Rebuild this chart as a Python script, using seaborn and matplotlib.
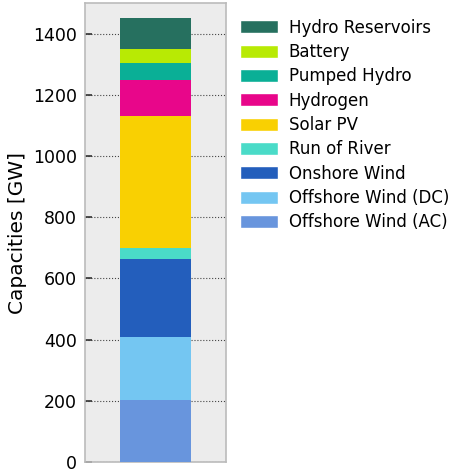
import matplotlib
matplotlib.use("Agg")
from matplotlib import pyplot as plt
from matplotlib.patches import Patch
import numpy as np
import pandas as pd
import seaborn as sns

# technologies from bottom to top of the stack
techs = ["Offshore Wind (AC)", "Offshore Wind (DC)", "Onshore Wind", "Run of River",
         "Solar PV", "Hydrogen", "Pumped Hydro", "Battery", "Hydro Reservoirs"]
capacities = [203, 205, 257, 34, 432, 116, 56, 48, 101]
colors = ["#6895dd", "#74c6f2", "#235ebc", "#4adbc8", "#f9d002",
          "#e8068a", "#0aaf96", "#b8ea04", "#26705f"]

sns.set_style("darkgrid", {"axes.facecolor": "#ececec", "grid.color": "#333333",
                           "grid.linestyle": ":", "axes.edgecolor": "#bbbbbb",
                           "text.color": "black", "axes.labelcolor": "black",
                           "ytick.color": "black"})
plt.rcParams['font.family'] = ['DejaVu Sans']

fig = plt.figure(figsize=(4.55, 4.72), dpi=100)
ax = fig.add_axes([85 / 455, 1 - 462 / 472, 141 / 455, 459 / 472])

df = pd.DataFrame({"tech": techs, "cap": capacities, "color": colors})
df["top"] = np.cumsum(df["cap"])

# draw cumulative totals from the top down so lower layers sit on top
for _, row in df.iloc[::-1].iterrows():
    sns.barplot(x=[""], y=[row["top"]], color=row["color"], width=0.5,
                saturation=1, linewidth=0, ax=ax, zorder=3)

ax.set_ylim(0, 1500)
ax.set_xlim(-0.5, 0.5)
ax.set_yticks([0, 200, 400, 600, 800, 1000, 1200, 1400])
ax.grid(axis="x", visible=False)
ax.grid(axis="y", linewidth=0.8, alpha=0.9)
ax.set_axisbelow(True)
ax.set_xticks([])
ax.set_xlabel("")
ax.set_ylabel("Capacities [GW]", fontsize=14.5, labelpad=4)
ax.tick_params(axis="y", labelsize=12.5, direction="in", length=5, width=1.2,
               left=True, color="#333333", pad=6)
for s in ax.spines.values():
    s.set_visible(True)
    s.set_color("#bbbbbb")
    s.set_linewidth(1.2)

handles = [Patch(facecolor=c, label=t) for t, c in zip(techs, colors)][::-1]
fig.legend(handles=handles, loc="upper left", bbox_to_anchor=(233 / 455, 1 - 12 / 472),
           frameon=False, fontsize=12, handlelength=2.3, handleheight=0.8,
           labelspacing=0.38, handletextpad=0.65, borderaxespad=0)

fig.savefig("out.png", dpi=100)
